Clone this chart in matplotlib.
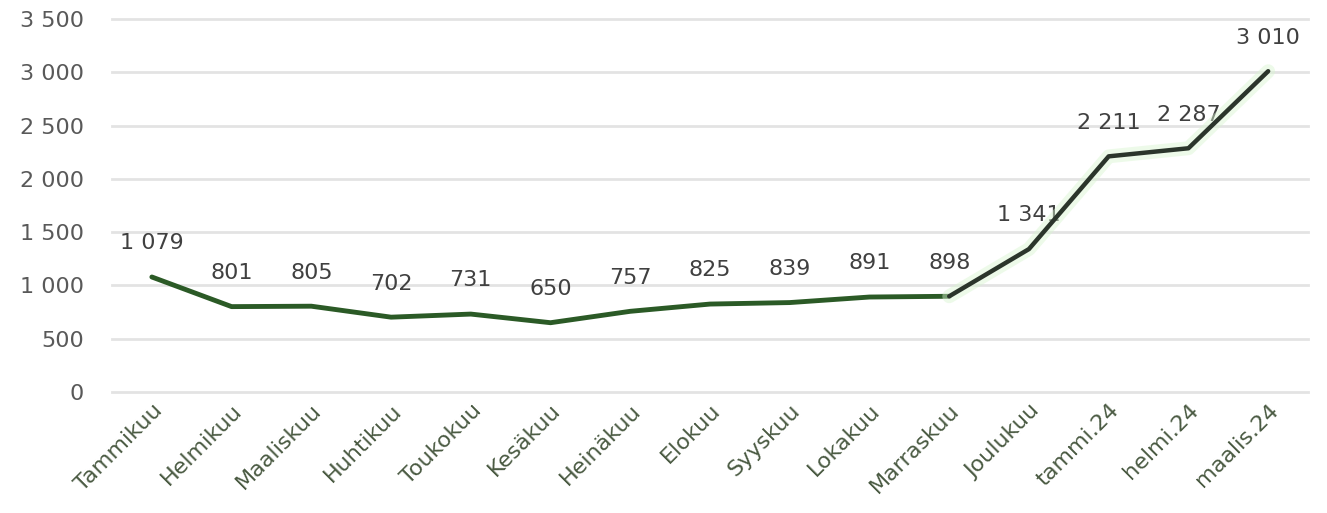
import matplotlib
matplotlib.use("Agg")
import matplotlib.pyplot as plt

categories = ["Tammikuu", "Helmikuu", "Maaliskuu", "Huhtikuu", "Toukokuu", "Kesäkuu",
              "Heinäkuu", "Elokuu", "Syyskuu", "Lokakuu", "Marraskuu", "Joulukuu",
              "tammi.24", "helmi.24", "maalis.24"]
values = [1079, 801, 805, 702, 731, 650, 757, 825, 839, 891, 898, 1341, 2211, 2287, 3010]
yticks = [0, 500, 1000, 1500, 2000, 2500, 3000, 3500]

def fmt(v):
    return f"{v:,}".replace(",", " ")

plt.rcParams['font.family'] = ['DejaVu Sans']
fig = plt.figure(figsize=(13.27, 5.13), dpi=100)
ax = fig.add_axes([0.0844, 0.2359, 0.9013, 0.7271])

x = list(range(len(categories)))
split = 10  # Marraskuu index
fs = 16

ax.set_xlim(-0.5, len(categories) - 0.5)
ax.set_ylim(0, 3500)
ax.set_yticks(yticks)
ax.set_yticklabels([fmt(t) for t in yticks], fontsize=fs, color='#595959')
ax.set_xticks(x)
ax.set_xticklabels(categories, rotation=45, ha='right', va='top', rotation_mode='anchor',
                   fontsize=fs, color='#4a5a42')
ax.tick_params(axis='both', length=0)
ax.tick_params(axis='y', pad=20)
ax.tick_params(axis='x', pad=6)
for s in ax.spines.values():
    s.set_visible(False)
ax.grid(axis='y', color='#e3e3e3', linewidth=2)
for gl in ax.get_ygridlines():
    gl.set_clip_on(False)
ax.set_axisbelow(True)

# data labels
for xi, v in zip(x, values):
    ax.annotate(fmt(v), (xi, v), xytext=(0, 17), textcoords='offset points',
                ha='center', va='bottom', fontsize=fs, color='#404040', zorder=2)

# first part: dark green
ax.plot(x[:split + 1], values[:split + 1], color='#2b5a26', linewidth=3.5,
        solid_capstyle='round', solid_joinstyle='round', zorder=3)
# second part: dark line with light green glow
ax.plot(x[split:], values[split:], color='#d8f5d0', linewidth=10, alpha=0.45,
        solid_capstyle='round', solid_joinstyle='round', zorder=3)
ax.plot(x[split:], values[split:], color='#2b352b', linewidth=3.2,
        solid_capstyle='round', solid_joinstyle='round', zorder=4)

fig.savefig("out.png", dpi=100)
